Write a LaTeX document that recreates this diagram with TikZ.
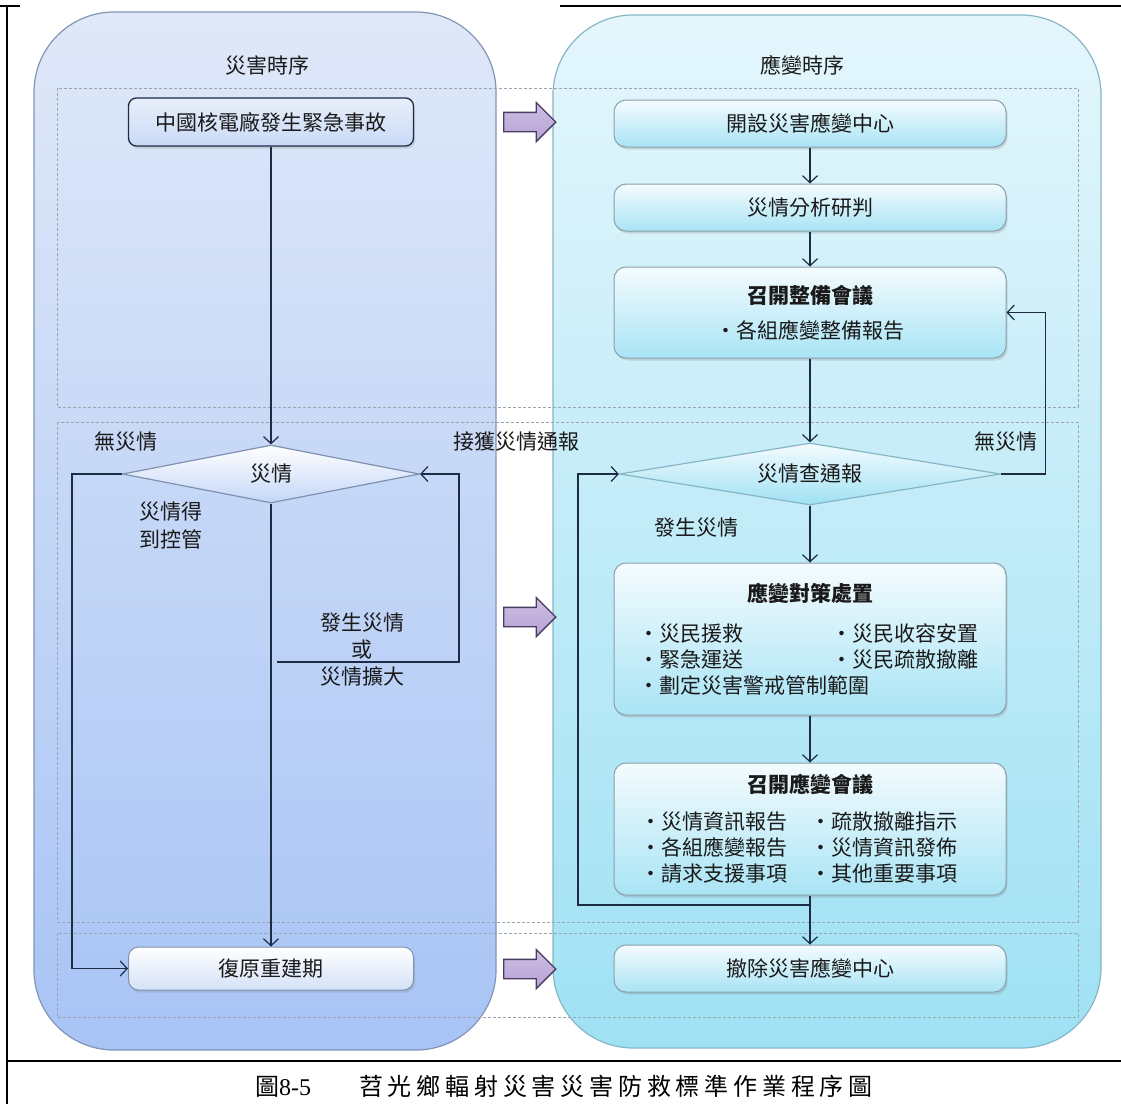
\documentclass[tikz,border=0pt]{standalone}
\usepackage{fontspec}
\setmainfont{Noto Sans CJK TC}
\newfontfamily\captionfont[LetterSpace=20]{Noto Sans CJK TC}
\newfontfamily\captionnum{Liberation Serif}
\usetikzlibrary{arrows.meta, shapes.geometric, shapes.arrows, shadows}
\definecolor{ink}{HTML}{1E2B45}
\definecolor{txt}{HTML}{1A1A1A}
\definecolor{laneBlueTop}{HTML}{DFE8F8}
\definecolor{laneBlueBot}{HTML}{A8C4F5}
\definecolor{laneBlueLine}{HTML}{8194B6}
\definecolor{laneCyanTop}{HTML}{E4F6FC}
\definecolor{laneCyanBot}{HTML}{9FE1F4}
\definecolor{laneCyanLine}{HTML}{86B6C6}
\definecolor{bandline}{HTML}{9AA4AE}
\definecolor{boxCyanLine}{HTML}{8A9FAA}
\definecolor{boxBlueLine}{HTML}{7F91B0}
\definecolor{pushFill}{HTML}{B7A2D6}
\definecolor{pushLine}{HTML}{4A3C60}
\newcommand{\boxfont}{\fontsize{21}{26}\selectfont}
\newcommand{\pairline}[3]{\makebox[#1][l]{・#2}・#3}
\tikzset{
  lane/.style={rounded corners=80pt, line width=1.2pt},
  band/.style={draw=bandline, densely dashed, line width=0.8pt},
  stepBlue/.style={rectangle, rounded corners=8pt, draw=ink, line width=1.3pt,
    top color=laneBlueTop!70!white, bottom color=laneBlueTop!60!laneBlueBot,
    minimum width=285pt, minimum height=48pt, font=\boxfont, text=txt,
    drop shadow={opacity=0.25, shadow xshift=1.5pt, shadow yshift=-2.5pt}},
  stepPale/.style={stepBlue, draw=boxBlueLine, line width=1pt, rounded corners=10pt,
    top color=white, bottom color=laneBlueTop!80!laneBlueBot, minimum height=43pt},
  stepCyan/.style={rectangle, rounded corners=12pt, draw=boxCyanLine, line width=1pt,
    top color=laneCyanTop!40!white, bottom color=laneCyanBot!90!white,
    minimum width=392pt, minimum height=47pt, align=center, font=\boxfont, text=txt,
    drop shadow={opacity=0.25, shadow xshift=1.5pt, shadow yshift=-2.5pt}},
  checkBlue/.style={diamond, shape aspect=6, draw=boxBlueLine, line width=1.2pt, inner sep=0pt,
    top color=white, bottom color=laneBlueTop!50!laneBlueBot,
    minimum width=297pt, minimum height=58pt, font=\boxfont, text=txt},
  checkCyan/.style={checkBlue, draw=laneCyanLine, top color=laneCyanTop!40!white,
    bottom color=laneCyanBot, minimum width=381pt, minimum height=62pt},
  flow/.style={-{Straight Barb[length=7pt, width=15pt]}, line width=1.2pt, draw=ink},
  push/.style={single arrow, draw=pushLine, line width=1.3pt, top color=pushFill!70!white,
    bottom color=pushFill, minimum height=52pt, single arrow head extend=10pt,
    inner xsep=0pt, inner ysep=9pt},
  note/.style={font=\boxfont, text=txt, align=center},
}

\begin{document}
\begin{tikzpicture}[x=1pt, y=-1pt]
\useasboundingbox (0,0) rectangle (1121,1104);
% page frame
\draw[line width=2pt] (7,6) -- (7,1104);
\draw[line width=2pt] (0,6) -- (20,6);
\draw[line width=1.6pt] (560,6) -- (1121,6);
\draw[line width=2pt] (7,1061) -- (1121,1061);

% two time lanes
\draw[lane, draw=laneBlueLine, top color=laneBlueTop, bottom color=laneBlueBot] (34,12) rectangle (496,1050);
\draw[lane, draw=laneCyanLine, top color=laneCyanTop, bottom color=laneCyanBot] (553,15) rectangle (1101,1048);
\draw[band] (57,88) rectangle (1078,407);
\draw[band] (57,422) rectangle (1078,922);
\draw[band] (57,933) rectangle (1078,1017);

\node[note] (hdrL) at (267,65) {災害時序};
\node[note] (hdrR) at (802,65) {應變時序};

% disaster side
\node[stepBlue] (src) at (271,122) {中國核電廠發生緊急事故};
\node[checkBlue] (d1) at (271,474) {災情};
\node[stepPale] (rebuild) at (271,968.5) {復原重建期};

% response side
\node[stepCyan] (r1) at (810,123.5) {開設災害應變中心};
\node[stepCyan] (r2) at (810,207.5) {災情分析研判};
\node[stepCyan, minimum height=91pt] (r3) at (810,312.5)
  {\textbf{召開整備會議}\\[9pt]・各組應變整備報告};
\node[checkCyan] (d2) at (810,474) {災情查通報};
\node[stepCyan, minimum height=152pt] (r4) at (810,639)
  {\textbf{應變對策處置}\\[14pt]
   \makebox[343pt][l]{\pairline{193pt}{災民援救}{災民收容安置}}\\
   \makebox[343pt][l]{\pairline{193pt}{緊急運送}{災民疏散撤離}}\\
   \makebox[343pt][l]{・劃定災害警戒管制範圍}};
\node[stepCyan, minimum height=132pt] (r5) at (810,829)
  {\textbf{召開應變會議}\\[11pt]
   \makebox[340pt][l]{\pairline{171pt}{災情資訊報告}{疏散撤離指示}}\\
   \makebox[340pt][l]{\pairline{171pt}{各組應變報告}{災情資訊發佈}}\\
   \makebox[340pt][l]{\pairline{171pt}{請求支援事項}{其他重要事項}}};
\node[stepCyan] (r6) at (810,968.5) {撤除災害應變中心};

% lane arrows
\node[push] (push1) at (525,122) {};
\node[push] (push2) at (525,617) {};
\node[push] (push3) at (525,969) {};

% connectors
\draw[flow] (src) -- (d1);
\draw[flow] (d1) -- (rebuild);
\draw[flow] (d1.west) -- ++(-50,0) |- (rebuild.west);
\coordinate (escStart) at (277,662);
\draw[flow] (escStart) -- ++(182,0) |- (d1.east);
\draw[flow] (r1) -- (r2);
\draw[flow] (r2) -- (r3);
\draw[flow] (r3) -- (d2);
\draw[flow] (d2) -- (r4);
\draw[flow] (r4) -- (r5);
\draw[flow] (r5) -- (r6);
\draw[flow] (d2.east) -- ++(44,0) |- (r3.east);
\coordinate (backStart) at (810,905);
\draw[flow] (backStart) -- ++(-232,0) |- (d2.west);

% branch labels
\node[note] (noneL) at (126,442) {無災情};
\node[note] (report) at (516,442) {接獲災情通報};
\node[note, font=\fontsize{21}{28}\selectfont] (ctrl) at (171,526) {災情得\\到控管};
\node[note, font=\fontsize{21}{27}\selectfont] (worse) at (362,650) {發生災情\\或\\災情擴大};
\node[note] (noneR) at (1006,442) {無災情};
\node[note] (occur) at (696,528) {發生災情};

\node[anchor=west, font=\fontsize{24}{28}\selectfont, inner sep=0pt] (caption) at (255,1086)
  {圖{\captionnum 8-5}\hspace{48pt}{\captionfont 苕光鄉輻射災害災害防救標準作業程序圖}};
\end{tikzpicture}
\end{document}
